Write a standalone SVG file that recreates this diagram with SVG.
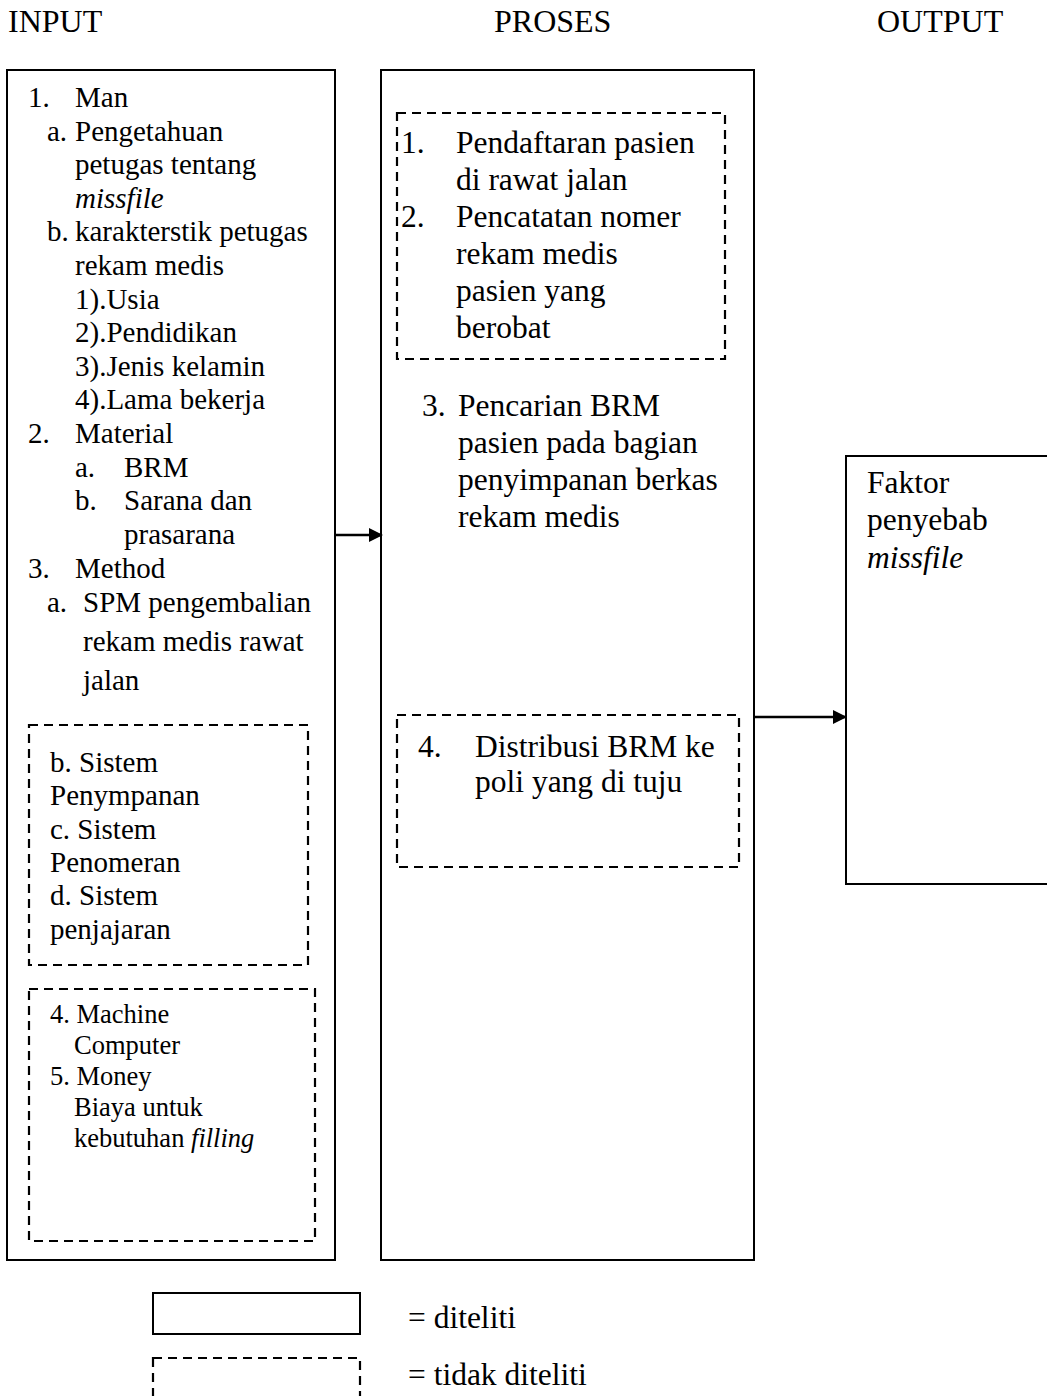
<svg xmlns="http://www.w3.org/2000/svg" width="1047" height="1396" viewBox="0 0 1047 1396">
<style>
text{font-family:"Liberation Serif","Times New Roman",serif;fill:#000}
.h{font-size:32px}
.m{font-size:29px}
.s{font-size:26.5px}
.p{font-size:31.5px}
.l{font-size:31.5px}
.i{font-style:italic}
.box{fill:#fff;stroke:#000;stroke-width:2}
.dash{fill:none;stroke:#000;stroke-width:2.2;stroke-dasharray:9 6}
.con{stroke:#000;stroke-width:2.5;fill:none}
</style>
<defs>
<marker id="arr" markerWidth="14" markerHeight="14" refX="13" refY="7" orient="auto" markerUnits="userSpaceOnUse">
<path d="M0,0 L14,7 L0,14 Z" fill="#000"/>
</marker>
</defs>
<rect width="1047" height="1396" fill="#fff"/>
<g id="headers">
<text class="h" x="8" y="32">INPUT</text>
<text class="h" x="494" y="32">PROSES</text>
<text class="h" x="877" y="32">OUTPUT</text>
</g>
<g id="input">
<rect class="box" x="7" y="70" width="328" height="1190"/>
<text class="m" x="28" y="107">1.</text><text class="m" x="75" y="107">Man</text>
<text class="m" x="47" y="141">a.</text><text class="m" x="75" y="141">Pengetahuan</text>
<text class="m" x="75" y="174">petugas tentang</text>
<text class="m i" x="75" y="208">missfile</text>
<text class="m" x="47" y="241">b.</text><text class="m" x="75" y="241">karakterstik petugas</text>
<text class="m" x="75" y="275">rekam medis</text>
<text class="m" x="75" y="309">1).Usia</text>
<text class="m" x="75" y="342">2).Pendidikan</text>
<text class="m" x="75" y="376">3).Jenis kelamin</text>
<text class="m" x="75" y="409">4).Lama bekerja</text>
<text class="m" x="28" y="443">2.</text><text class="m" x="75" y="443">Material</text>
<text class="m" x="75" y="477">a.</text><text class="m" x="124" y="477">BRM</text>
<text class="m" x="75" y="510">b.</text><text class="m" x="124" y="510">Sarana dan</text>
<text class="m" x="124" y="544">prasarana</text>
<text class="m" x="28" y="578">3.</text><text class="m" x="75" y="578">Method</text>
<text class="m" x="47" y="612">a.</text><text class="m" x="83" y="612">SPM pengembalian</text>
<text class="m" x="83" y="651">rekam medis rawat</text>
<text class="m" x="83" y="690">jalan</text>
</g>
<g id="input-dashed-1">
<rect class="dash" x="29" y="725" width="279" height="240"/>
<text class="m" x="50" y="772">b. Sistem</text>
<text class="m" x="50" y="805">Penympanan</text>
<text class="m" x="50" y="839">c. Sistem</text>
<text class="m" x="50" y="872">Penomeran</text>
<text class="m" x="50" y="905">d. Sistem</text>
<text class="m" x="50" y="939">penjajaran</text>
</g>
<g id="input-dashed-2">
<rect class="dash" x="29" y="989" width="286" height="252"/>
<text class="s" x="50" y="1023">4. Machine</text>
<text class="s" x="74" y="1054">Computer</text>
<text class="s" x="50" y="1085">5. Money</text>
<text class="s" x="74" y="1116">Biaya untuk</text>
<text class="s" x="74" y="1147">kebutuhan <tspan class="i">filling</tspan></text>
</g>
<g id="proses">
<rect class="box" x="381" y="70" width="373" height="1190"/>
<text class="p" x="422" y="416">3.</text><text class="p" x="458" y="416">Pencarian BRM</text>
<text class="p" x="458" y="453">pasien pada bagian</text>
<text class="p" x="458" y="490">penyimpanan berkas</text>
<text class="p" x="458" y="527">rekam medis</text>
</g>
<g id="proses-dashed-1">
<rect class="dash" x="397" y="113" width="328" height="246"/>
<text class="p" x="401" y="153">1.</text><text class="p" x="456" y="153">Pendaftaran pasien</text>
<text class="p" x="456" y="190">di rawat jalan</text>
<text class="p" x="401" y="227">2.</text><text class="p" x="456" y="227">Pencatatan nomer</text>
<text class="p" x="456" y="264">rekam medis</text>
<text class="p" x="456" y="301">pasien yang</text>
<text class="p" x="456" y="338">berobat</text>
</g>
<g id="proses-dashed-2">
<rect class="dash" x="397" y="715" width="342" height="152"/>
<text class="p" x="418" y="757">4.</text><text class="p" x="475" y="757">Distribusi BRM ke</text>
<text class="p" x="475" y="792">poli yang di tuju</text>
</g>
<g id="output">
<rect class="box" x="846" y="456" width="220" height="428"/>
<text class="p" x="867" y="493">Faktor</text>
<text class="p" x="867" y="530">penyebab</text>
<text class="p i" x="867" y="568">missfile</text>
</g>
<g id="connectors">
<line class="con" x1="335" y1="535" x2="382" y2="535" marker-end="url(#arr)"/>
<line class="con" x1="755" y1="717" x2="846" y2="717" marker-end="url(#arr)"/>
</g>
<g id="legend">
<rect class="box" x="153" y="1293" width="207" height="41"/>
<text class="l" x="408" y="1328">= diteliti</text>
<rect class="dash" x="153" y="1358" width="207" height="60"/>
<text class="l" x="408" y="1385">= tidak diteliti</text>
</g>
</svg>
